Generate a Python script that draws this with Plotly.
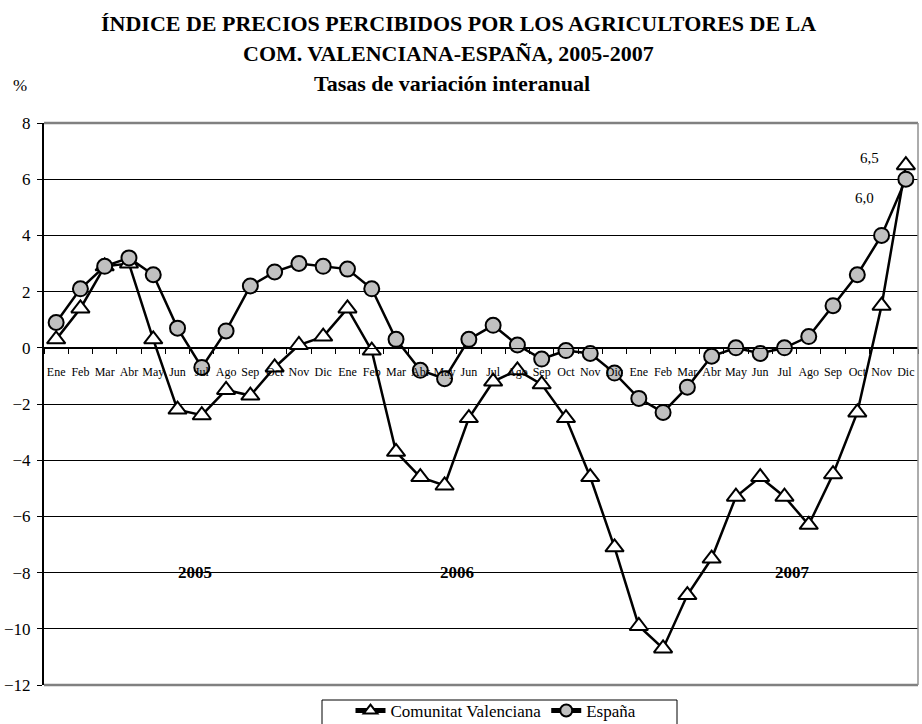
import plotly.graph_objects as go

months = ["Ene", "Feb", "Mar", "Abr", "May", "Jun", "Jul", "Ago", "Sep", "Oct", "Nov", "Dic"]
years = ["2005", "2006", "2007"]
keys = [f"{m} {y}" for y in years for m in months]
tick_text = months * len(years)

valenciana = [0.3, 1.4, 2.9, 3.0, 0.3, -2.2, -2.4, -1.5, -1.7, -0.7, 0.1, 0.4,
              1.4, -0.1, -3.7, -4.6, -4.9, -2.5, -1.2, -0.8, -1.3, -2.5, -4.6, -7.1,
              -9.9, -10.7, -8.8, -7.5, -5.3, -4.6, -5.3, -6.3, -4.5, -2.3, 1.5, 6.5]
espana = [0.9, 2.1, 2.9, 3.2, 2.6, 0.7, -0.7, 0.6, 2.2, 2.7, 3.0, 2.9,
          2.8, 2.1, 0.3, -0.8, -1.1, 0.3, 0.8, 0.1, -0.4, -0.1, -0.2, -0.9,
          -1.8, -2.3, -1.4, -0.3, 0.0, -0.2, 0.0, 0.4, 1.5, 2.6, 4.0, 6.0]

year_label_pos = [5.72, 16.5, 30.35]
year_label_y = -8

FONT = "Liberation Serif"

fig = go.Figure()
fig.add_trace(go.Scatter(
    x=keys, y=valenciana, name="Comunitat Valenciana", mode="lines+markers",
    line=dict(color="black", width=2.5),
    marker=dict(symbol="triangle-up", size=16, color="white",
                line=dict(color="black", width=2)),
))
fig.add_trace(go.Scatter(
    x=keys, y=espana, name="España", mode="lines+markers",
    line=dict(color="black", width=2.5),
    marker=dict(symbol="circle", size=15, color="#c0c0c0",
                line=dict(color="black", width=2)),
))

PW, PH = 874, 562
annotations = []


def px_x(x):
    return (x - 44) / PW


def px_y(y):
    return (685 - y) / PH


def title_ann(text, xc, yc, size):
    return dict(text=text, xref="paper", yref="paper", x=px_x(xc), y=px_y(yc),
                xanchor="center", yanchor="middle", showarrow=False,
                font=dict(family=FONT, size=size, color="black"))


annotations.append(title_ann("<b>ÍNDICE DE PRECIOS PERCIBIDOS POR LOS AGRICULTORES DE LA</b>", 458, 24, 22))
annotations.append(title_ann("<b>COM. VALENCIANA-ESPAÑA, 2005-2007</b>", 448, 54, 22))
annotations.append(title_ann("<b>Tasas de variación interanual</b>", 452, 83, 22))
annotations.append(title_ann("%", 20, 86, 17))
for yl, xp in zip(years, year_label_pos):
    annotations.append(dict(text=f"<b>{yl}</b>", x=xp, y=year_label_y, xref="x", yref="y",
                            xanchor="center", yanchor="middle",
                            showarrow=False, font=dict(family=FONT, size=17, color="black")))
annotations.append(dict(text=f"{valenciana[-1]:.1f}".replace(".", ","), x=keys[-1], y=valenciana[-1],
                        xref="x", yref="y", showarrow=False, xshift=-36, yshift=7,
                        font=dict(family=FONT, size=15, color="black")))
annotations.append(dict(text=f"{espana[-1]:.1f}".replace(".", ","), x=keys[-1], y=espana[-1],
                        xref="x", yref="y", showarrow=False, xshift=-41, yshift=-19,
                        font=dict(family=FONT, size=15, color="black")))

shapes = [
    dict(type="line", xref="paper", yref="paper", x0=0, x1=1, y0=1, y1=1,
         line=dict(color="#808080", width=2.5), layer="above"),
    dict(type="line", xref="paper", yref="paper", x0=0, x1=1, y0=0, y1=0,
         line=dict(color="#808080", width=2.5), layer="above"),
    dict(type="line", xref="paper", yref="paper", x0=1, x1=1, y0=0, y1=1,
         line=dict(color="#909090", width=1.5), layer="above"),
    # legend frame
    dict(type="rect", xref="paper", yref="paper", x0=px_x(322), x1=px_x(677),
         y0=px_y(700), y1=px_y(735), line=dict(color="black", width=1),
         fillcolor="white", layer="below"),
]

fig.update_layout(
    width=922, height=724,
    margin=dict(l=44, r=4, t=123, b=39, autoexpand=False),
    paper_bgcolor="white", plot_bgcolor="white",
    font=dict(family=FONT, color="black"),
    showlegend=True,
    legend=dict(orientation="h", x=px_x(496), xanchor="center",
                y=px_y(693), yanchor="top",
                borderwidth=0, bgcolor="rgba(0,0,0,0)",
                font=dict(family=FONT, size=17, color="black"),
                itemsizing="constant"),
    annotations=annotations,
    shapes=shapes,
    xaxis=dict(
        type="category", range=[-0.5, 35.5],
        tickmode="array", tickvals=keys, ticktext=tick_text,
        tickson="boundaries", ticks="outside", ticklen=5, tickcolor="black", tickwidth=1,
        showline=True, linecolor="black", linewidth=1,
        showgrid=False, zeroline=False,
        anchor="free", position=0.6,
        tickfont=dict(family=FONT, size=12, color="black"),
        ticklabelstandoff=13,
        tickangle=0,
    ),
    yaxis=dict(
        range=[-12, 8], dtick=2, tick0=0,
        ticks="outside", ticklen=5, tickcolor="black",
        showline=True, linecolor="black", linewidth=2,
        showgrid=True, gridcolor="black", gridwidth=1,
        zeroline=False,
        tickfont=dict(family=FONT, size=17, color="black"),
        ticklabelstandoff=3,
    ),
)

fig.write_html("out.html", config={"displayModeBar": False},
               post_script="document.body.style.margin='0';document.body.style.overflow='hidden';")
